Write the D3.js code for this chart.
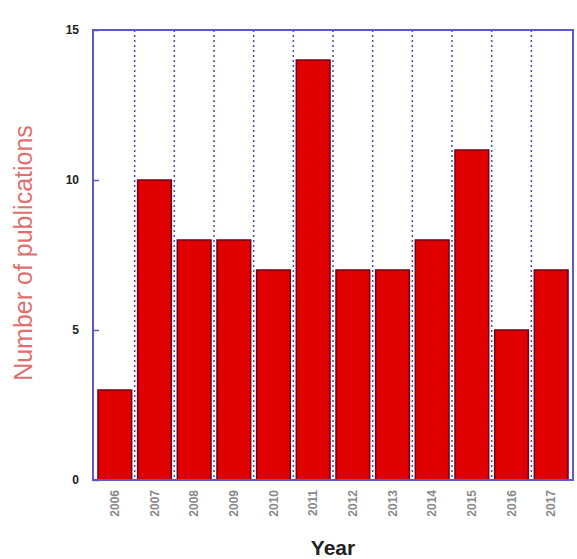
<!DOCTYPE html>
<html><head><meta charset="utf-8">
<script src="https://cdn.jsdelivr.net/npm/d3@7"></script>
<style>body{margin:0;background:#fff}</style>
</head><body>
<svg id="c" width="577" height="559"></svg>
<script>
const years = ["2006","2007","2008","2009","2010","2011","2012","2013","2014","2015","2016","2017"];
const counts = [3,10,8,8,7,14,7,7,8,11,5,7];
const yTicks = [0,5,10,15];

const svg = d3.select("#c");
const m = {l:93, r:573, t:30, b:480};
const x = d3.scaleBand().domain(years).range([m.l, m.r]).paddingInner(0.15).paddingOuter(0.125);
const y = d3.scaleLinear().domain([0,15]).range([m.b, m.t]);

// dotted gridlines at band boundaries
const step = x.step();
const bounds = years.slice(1).map(d => x(d) - x.paddingInner()*step/2);
svg.selectAll(".g").data(bounds).enter().append("line")
  .attr("x1",d=>d).attr("x2",d=>d).attr("y1",m.t).attr("y2",m.b)
  .attr("stroke","#4a4ab8").attr("stroke-width",1.5).attr("stroke-dasharray","2,3");

svg.selectAll(".bar").data(counts).enter().append("rect")
  .attr("x",(d,i)=>x(years[i])).attr("width",x.bandwidth())
  .attr("y",d=>y(d)).attr("height",d=>y(0)-y(d))
  .attr("fill","#e00000").attr("stroke","#700018").attr("stroke-width",1.5);

// frame
svg.append("rect").attr("x",m.l).attr("y",m.t).attr("width",m.r-m.l).attr("height",m.b-m.t)
  .attr("fill","none").attr("stroke","#5a5ac8").attr("stroke-width",2);

const yAxis = d3.axisLeft(y).tickValues(yTicks).tickSize(-6).tickPadding(14);
const ga = svg.append("g").attr("transform",`translate(${m.l},0)`).call(yAxis);
ga.select(".domain").remove();
ga.selectAll(".tick line").attr("stroke","#5a5ac8").attr("stroke-width",1.5);
ga.selectAll("text").attr("font-family","Liberation Sans, Arial").attr("font-size",12).attr("font-weight","bold").attr("fill","#222");

const xAxis = d3.axisBottom(x).tickSize(0).tickPadding(0);
const gx = svg.append("g").attr("transform",`translate(0,${m.b})`).call(xAxis);
gx.select(".domain").remove();
gx.selectAll(".tick text").attr("font-family","Liberation Sans, Arial").attr("font-size",12)
  .attr("font-weight","bold").attr("fill","#8a8a8a")
  .attr("transform","rotate(-90)").attr("text-anchor","end")
  .attr("x",-10).attr("y",0).attr("dy","0.35em");

svg.append("text").attr("transform",`translate(25,${253}) rotate(-90)`)
  .attr("text-anchor","middle").attr("dominant-baseline","middle")
  .attr("font-family","Liberation Sans, Arial").attr("font-size",25)
  .attr("fill","#e07070").text("Number of publications");

svg.append("text").attr("x",333).attr("y",555).attr("text-anchor","middle")
  .attr("font-family","Liberation Sans, Arial").attr("font-size",21).attr("font-weight","bold")
  .attr("fill","#222").text("Year");
</script>
</body></html>
